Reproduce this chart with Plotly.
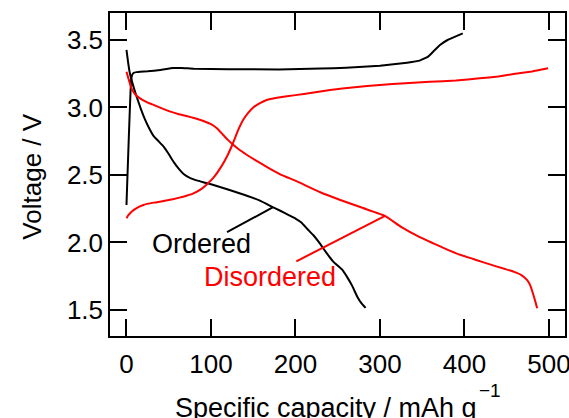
import plotly.graph_objects as go

# ---------------- data ----------------
ordered_charge_x = [0, 5.5, 7, 9, 12, 16, 25, 40, 55, 65, 80, 120, 180, 230, 260, 300, 332, 347, 357, 364, 371, 380, 387, 398]
ordered_charge_v = [2.278, 3.2, 3.245, 3.258, 3.262, 3.265, 3.268, 3.278, 3.292, 3.293, 3.287, 3.284, 3.282, 3.288, 3.295, 3.31, 3.332, 3.347, 3.377, 3.42, 3.463, 3.50, 3.52, 3.549]

ordered_dis_x = [0, 2, 4, 8, 12, 17, 22, 27, 32, 38, 44, 50, 56, 62, 68, 75, 83, 93, 103, 122, 140, 158, 173, 182, 192, 200, 207, 214, 221, 228, 233, 240, 245, 255, 261, 267, 273, 278, 283]
ordered_dis_v = [3.426, 3.33, 3.253, 3.16, 3.08, 2.99, 2.91, 2.845, 2.79, 2.75, 2.71, 2.655, 2.595, 2.545, 2.505, 2.478, 2.46, 2.443, 2.426, 2.389, 2.352, 2.31, 2.262, 2.235, 2.203, 2.177, 2.148, 2.10, 2.055, 2.0, 1.955, 1.895, 1.856, 1.80, 1.745, 1.68, 1.60, 1.55, 1.515]

disordered_dis_x = [0, 3, 6, 10, 16, 24, 32, 42, 52, 62, 71, 81, 91, 100, 107, 114, 120, 127, 134, 146, 158, 170, 182, 197, 205, 230, 253, 280, 306, 325, 347, 370, 391, 413, 434, 458, 467, 474, 478, 481, 484, 486]
disordered_dis_v = [3.265, 3.2, 3.142, 3.10, 3.068, 3.04, 3.019, 2.993, 2.969, 2.95, 2.937, 2.92, 2.90, 2.876, 2.846, 2.80, 2.76, 2.72, 2.685, 2.635, 2.59, 2.545, 2.505, 2.465, 2.443, 2.37, 2.315, 2.255, 2.197, 2.115, 2.04, 1.975, 1.917, 1.872, 1.83, 1.784, 1.76, 1.722, 1.68, 1.624, 1.56, 1.513]

disordered_charge_x = [0, 2, 6, 12, 20, 32, 44, 56, 67, 78, 87, 95, 103, 112, 120, 126, 132, 138, 144, 150, 158, 166, 178, 190, 210, 241, 270, 300, 330, 359, 390, 418, 440, 458, 480, 499]
disordered_charge_v = [2.179, 2.20, 2.228, 2.255, 2.278, 2.295, 2.307, 2.322, 2.339, 2.36, 2.389, 2.43, 2.48, 2.56, 2.65, 2.735, 2.83, 2.907, 2.96, 3.0, 3.032, 3.056, 3.072, 3.083, 3.10, 3.13, 3.15, 3.167, 3.18, 3.19, 3.20, 3.216, 3.23, 3.248, 3.267, 3.29]

ordered_leader_x = [119, 173]
ordered_leader_v = [2.076, 2.26]
disordered_leader_x = [201, 306]
disordered_leader_v = [1.86, 2.197]

label_ordered = "Ordered"
label_disordered = "Disordered"
ordered_label_pos = (89, 1.99)
disordered_label_pos = (170, 1.745)

x_title = "Specific capacity / mAh g"
x_title_sup = "−1"
y_title = "Voltage / V"

x_ticks = [0, 100, 200, 300, 400, 500]
y_ticks = [1.5, 2.0, 2.5, 3.0, 3.5]

BLACK = "#000000"
RED = "#ff0000"
FONT = "Liberation Sans, Arial, sans-serif"

fig = go.Figure()

def add_line(x, y, color, width=2):
    fig.add_trace(go.Scatter(x=x, y=y, mode="lines", line=dict(color=color, width=width, shape="spline", smoothing=0.3),
                             showlegend=False, hoverinfo="skip"))

add_line(ordered_charge_x, ordered_charge_v, BLACK)
add_line(ordered_dis_x, ordered_dis_v, BLACK)
add_line(disordered_charge_x, disordered_charge_v, RED)
add_line(disordered_dis_x, disordered_dis_v, RED)
fig.add_trace(go.Scatter(x=ordered_leader_x, y=ordered_leader_v, mode="lines", line=dict(color=BLACK, width=2),
                         showlegend=False, hoverinfo="skip"))
fig.add_trace(go.Scatter(x=disordered_leader_x, y=disordered_leader_v, mode="lines", line=dict(color=RED, width=2),
                         showlegend=False, hoverinfo="skip"))

fig.add_annotation(x=ordered_label_pos[0], y=ordered_label_pos[1], text=label_ordered, showarrow=False,
                   font=dict(family=FONT, size=27, color=BLACK), xanchor="center", yanchor="middle")
fig.add_annotation(x=disordered_label_pos[0], y=disordered_label_pos[1], text=label_disordered, showarrow=False,
                   font=dict(family=FONT, size=27, color=RED), xanchor="center", yanchor="middle")

# axis titles as annotations
fig.add_annotation(xref="paper", yref="paper", x=0.1385, y=-0.274, xanchor="left", yanchor="bottom",
                   text=x_title, showarrow=False, font=dict(family=FONT, size=27, color=BLACK))
fig.add_annotation(xref="paper", yref="paper", x=0.8055, y=-0.206, xanchor="left", yanchor="bottom",
                   text=x_title_sup, showarrow=False, font=dict(family=FONT, size=19, color=BLACK))
fig.add_annotation(xref="paper", yref="paper", x=-0.171, y=0.494, xanchor="center", yanchor="middle",
                   text=y_title, textangle=-90, showarrow=False,
                   font=dict(family=FONT, size=26, color=BLACK))

axis_common = dict(showline=True, linecolor=BLACK, linewidth=1.5, mirror="ticks", ticks="inside",
                   ticklen=17, tickwidth=1.5, tickcolor=BLACK, showgrid=False, zeroline=False,
                   automargin=False, ticklabeloverflow="allow",
                   tickfont=dict(family=FONT, size=26, color=BLACK))

fig.update_xaxes(range=[-19.5, 519], tickvals=x_ticks, ticktext=[str(t) for t in x_ticks],
                 ticklabelstandoff=4, **axis_common)
fig.update_yaxes(range=[1.307, 3.7], tickvals=y_ticks, ticktext=[f"{t:.1f}" for t in y_ticks], **axis_common)

fig.update_layout(width=569, height=418, margin=dict(l=110, r=4, t=13, b=82),
                  paper_bgcolor="white", plot_bgcolor="white", showlegend=False)

fig.write_html("out.html", config={"displayModeBar": False},
               post_script="document.body.style.margin='0';document.body.style.overflow='hidden';")
